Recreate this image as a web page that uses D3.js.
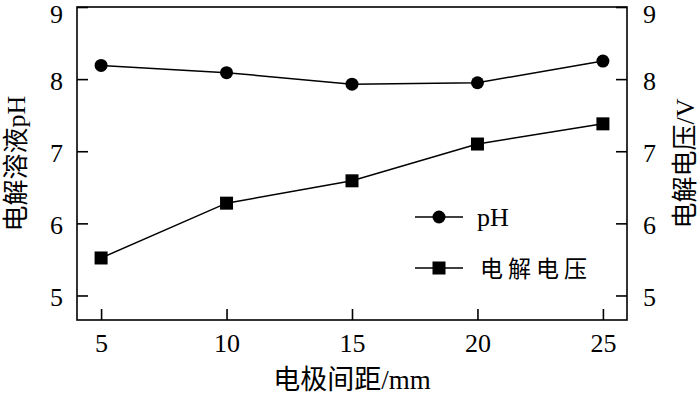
<!DOCTYPE html>
<html>
<head>
<meta charset="utf-8">
<script src="https://cdn.jsdelivr.net/npm/d3@7"></script>
<style>
body { margin: 0; background: #fff; }
svg { display: block; }
text { font-family: "Liberation Serif", "Noto Sans CJK SC", serif; fill: #000; }
</style>
</head>
<body>
<svg id="chart" width="700" height="395"></svg>
<script>
// data
var distances = [5, 10, 15, 20, 25];
var phValues = [8.19, 8.09, 7.93, 7.95, 8.25];
var voltValues = [5.52, 6.28, 6.59, 7.10, 7.38];
var xTicks = [5, 10, 15, 20, 25];
var yTicks = [5, 6, 7, 8, 9];

var pLeft = 77, pRight = 627, pTop = 7, pBottom = 320;
var svg = d3.select('#chart');

var x = d3.scaleLinear().domain([4.04, 25.96]).range([pLeft, pRight]);
var y = d3.scaleLinear().domain([4.66, 9]).range([pBottom, pTop]);
var fmt = d3.format('d');

// frame
svg.append('rect')
	.attr('x', pLeft).attr('y', pTop)
	.attr('width', pRight - pLeft).attr('height', pBottom - pTop)
	.attr('fill', 'none').attr('stroke', '#000').attr('stroke-width', 1.6);

function styleAxis(g) {
	g.select('.domain').remove();
	g.selectAll('.tick line').attr('stroke', '#000').attr('stroke-width', 1.6);
	g.selectAll('.tick text').style('font-size', '26px').attr('fill', '#000');
}
// y labels sit a little below their ticks, the top one more so
function nudgeY(g) {
	g.selectAll('.tick text').attr('y', function(d) { return d === 9 ? 7 : 2; });
}

svg.append('g').attr('transform', 'translate(0,' + pBottom + ')')
	.call(d3.axisBottom(x).tickValues(xTicks).tickFormat(fmt).tickSizeInner(-11).tickPadding(14))
	.call(styleAxis);

svg.append('g').attr('transform', 'translate(' + pLeft + ',0)')
	.call(d3.axisLeft(y).tickValues(yTicks).tickFormat(fmt).tickSizeInner(-11).tickPadding(14))
	.call(styleAxis).call(nudgeY);

svg.append('g').attr('transform', 'translate(' + pRight + ',0)')
	.call(d3.axisRight(y).tickValues(yTicks).tickFormat(fmt).tickSizeInner(-11).tickPadding(16))
	.call(styleAxis).call(nudgeY);

// lines
var line = function(vals) {
	return d3.line().x(function(d, i) { return x(distances[i]); }).y(function(d) { return y(d); })(vals);
};
svg.append('path').attr('d', line(phValues)).attr('fill', 'none').attr('stroke', '#000').attr('stroke-width', 1.5);
svg.append('path').attr('d', line(voltValues)).attr('fill', 'none').attr('stroke', '#000').attr('stroke-width', 1.5);

svg.selectAll('.ph').data(phValues).enter().append('circle')
	.attr('cx', function(d, i) { return x(distances[i]); })
	.attr('cy', function(d) { return y(d); })
	.attr('r', 6.5).attr('fill', '#000');

svg.selectAll('.volt').data(voltValues).enter().append('rect')
	.attr('x', function(d, i) { return x(distances[i]) - 6.5; })
	.attr('y', function(d) { return y(d) - 6.5; })
	.attr('width', 13).attr('height', 13).attr('fill', '#000');

// legend
var lg = svg.append('g');
lg.append('line').attr('x1', 415).attr('x2', 463).attr('y1', 217).attr('y2', 217).attr('stroke', '#000').attr('stroke-width', 1.5);
lg.append('circle').attr('cx', 439).attr('cy', 217).attr('r', 6.5).attr('fill', '#000');
lg.append('text').attr('x', 477).attr('y', 226).style('font-size', '26px').text('pH');
lg.append('line').attr('x1', 415).attr('x2', 463).attr('y1', 268).attr('y2', 268).attr('stroke', '#000').attr('stroke-width', 1.5);
lg.append('rect').attr('x', 432.5).attr('y', 261.5).attr('width', 13).attr('height', 13).attr('fill', '#000');
lg.append('text').attr('x', 480).attr('y', 277).style('font-size', '23px').style('letter-spacing', '5px').text('电解电压');

// titles
svg.append('text').attr('x', (pLeft + pRight) / 2).attr('y', 389)
	.attr('text-anchor', 'middle').style('font-size', '27px').text('电极间距/mm');
svg.append('text').attr('transform', 'translate(25,' + ((pTop + pBottom) / 2) + ') rotate(-90)')
	.attr('text-anchor', 'middle').style('font-size', '26px').text('电解溶液pH');
svg.append('text').attr('transform', 'translate(694,' + ((pTop + pBottom) / 2) + ') rotate(-90)')
	.attr('text-anchor', 'middle').style('font-size', '26px').text('电解电压/V');
</script>
</body>
</html>
